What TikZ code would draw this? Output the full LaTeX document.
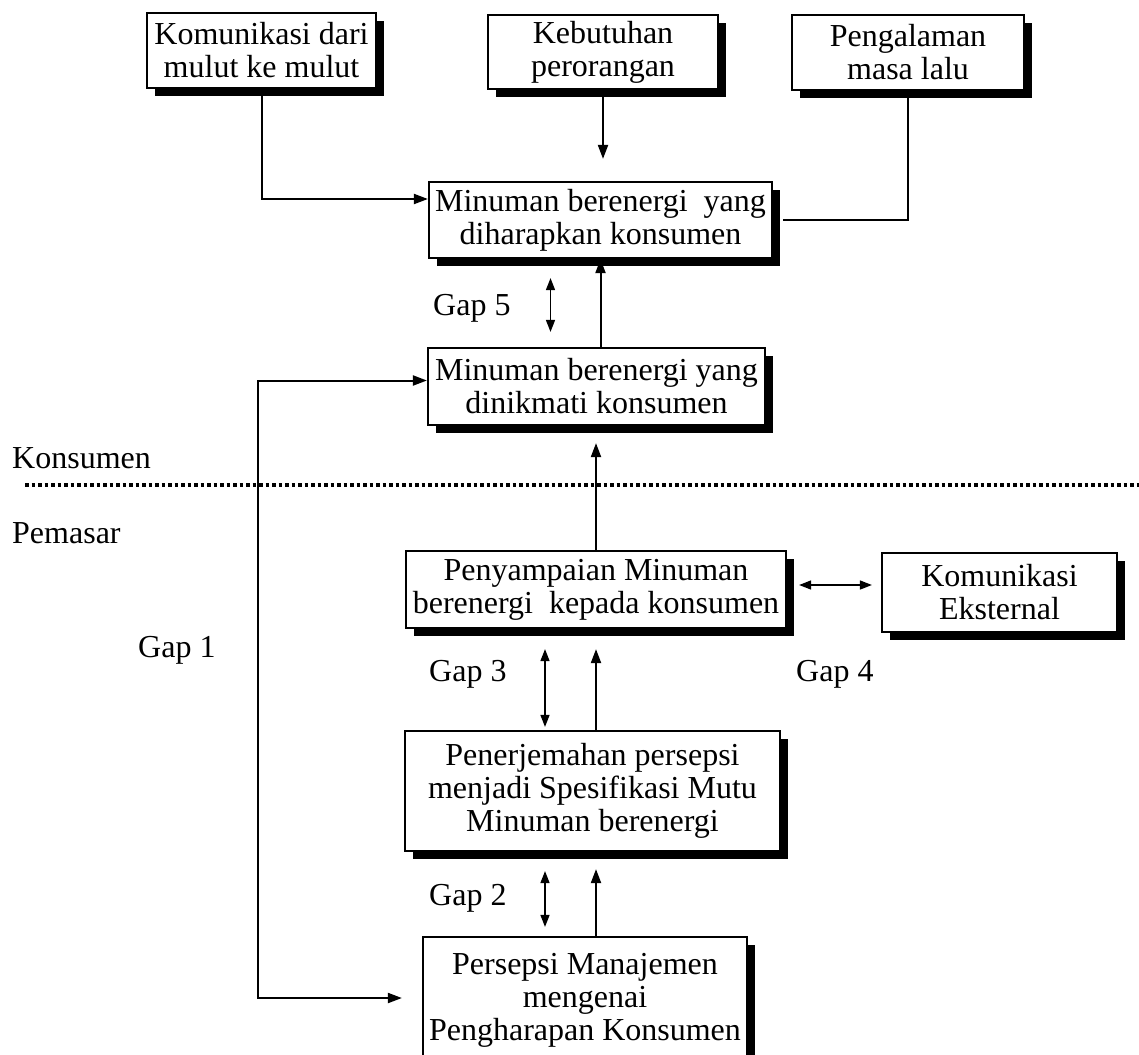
\documentclass[tikz,border=0pt]{standalone}
\usepackage{fontspec}
\setmainfont{Liberation Serif}
\usetikzlibrary{arrows.meta, shadows}

\begin{document}
\begin{tikzpicture}[
                x=1pt, y=-1pt, % pixel units, y goes down
                every node/.style={font=\fontsize{32}{33}\selectfont}, % Times-like text
                box/.style={draw, line width=2.2pt, fill=white, align=center, inner sep=2pt,
                    drop shadow={shadow xshift=8pt, shadow yshift=-8pt, fill=black, opacity=1}}, % Box with black shadow
                lbl/.style={anchor=base west, inner sep=0pt}, % Loose text
                arr/.style={-{Triangle[length=14pt,width=10pt]}, line width=2pt}, % One way arrow
                dbl/.style={{Triangle[length=12pt,width=9pt]}-{Triangle[length=12pt,width=9pt]}, line width=1.5pt} % Gap arrow
                ]
                \useasboundingbox (0,0) rectangle (1139,1054);

                % top row
                \node[box, minimum width=229pt, minimum height=75pt] (mulut) at (261.5,50.5) {Komunikasi dari\\mulut ke mulut};
                \node[box, minimum width=230pt, minimum height=74pt] (butuh) at (603,52) {Kebutuhan\\perorangan};
                \node[box, minimum width=232pt, minimum height=75pt] (lalu) at (908,52.5) {Pengalaman\\masa lalu};

                % consumer side
                \node[box, minimum width=343pt, minimum height=76pt] (harap) at (600.5,220) {Minuman berenergi~ yang\\diharapkan konsumen};
                \node[box, minimum width=337pt, minimum height=77pt] (nikmat) at (596.5,386.5) {Minuman berenergi yang\\dinikmati konsumen};

                % marketer side
                \node[box, minimum width=380pt, minimum height=77pt] (sampai) at (596,589.5) {Penyampaian Minuman\\berenergi~ kepada konsumen};
                \node[box, minimum width=235pt, minimum height=79pt] (eksternal) at (999.5,592.5) {Komunikasi\\Eksternal};
                \node[box, minimum width=375pt, minimum height=120pt] (terjemah) at (592.5,791) {Penerjemahan persepsi\\menjadi Spesifikasi Mutu\\Minuman berenergi};
                \node[box, minimum width=324pt, minimum height=127pt] (persepsi) at (585,1000.5) {Persepsi Manajemen\\mengenai\\Pengharapan Konsumen};

                % texts
                \node[lbl] (konsumen) at (12,468) {Konsumen};
                \node[lbl] (pemasar) at (12,543) {Pemasar};
                \node[lbl] (gap1) at (138,657) {Gap 1};
                \node[lbl] (gap5) at (433,315) {Gap 5};
                \node[lbl] (gap3) at (429,681) {Gap 3};
                \node[lbl] (gap4) at (796,681) {Gap 4};
                \node[lbl] (gap2) at (429,905) {Gap 2};

                % border line
                \coordinate (batasL) at (25,485);
                \coordinate (batasR) at (1139,485);
                \draw[line width=4pt, dash pattern=on 3.5pt off 3pt] (batasL) -- (batasR);

                % arrows
                \coordinate (belok) at (258,700);
                \draw[arr] (mulut.south) |- ([yshift=21pt]harap.west);
                \draw[arr, shorten >=22pt] (butuh.south) -- (butuh.south |- harap.north);
                \draw[line width=2pt] (lalu.south) |- ([xshift=10pt]harap.east);
                \draw[arr] (nikmat.north -| harap.south) -- (harap.south);
                \draw[dbl] ([xshift=-50pt,yshift=-19pt]harap.south) -- ([xshift=-46pt,yshift=15pt]nikmat.north);
                \draw[arr, shorten >=17pt] (sampai.north) -- (sampai.north |- nikmat.south);
                \draw[{Triangle[length=14pt,width=10pt]}-{Triangle[length=14pt,width=10pt]}, line width=2pt] ([yshift=6pt]nikmat.west) -| (belok) |- ([xshift=-20pt,yshift=2.5pt]persepsi.west);
                \draw[dbl, shorten <=12pt, shorten >=9pt] ([yshift=4.5pt]sampai.east) -- ([yshift=4.5pt]sampai.east -| eksternal.west);
                \draw[arr, shorten >=20pt] (terjemah.north -| sampai.south) -- (sampai.south);
                \draw[dbl] ([xshift=-51pt,yshift=-20pt]sampai.south) -- ([xshift=-47.5pt,yshift=3pt]terjemah.north);
                \draw[arr, shorten >=17pt] (persepsi.north -| sampai.south) -- (terjemah.south -| sampai.south);
                \draw[dbl] ([xshift=-47.5pt,yshift=-19pt]terjemah.south) -- ([xshift=-40pt,yshift=9pt]persepsi.north);
            \end{tikzpicture}
\end{document}
